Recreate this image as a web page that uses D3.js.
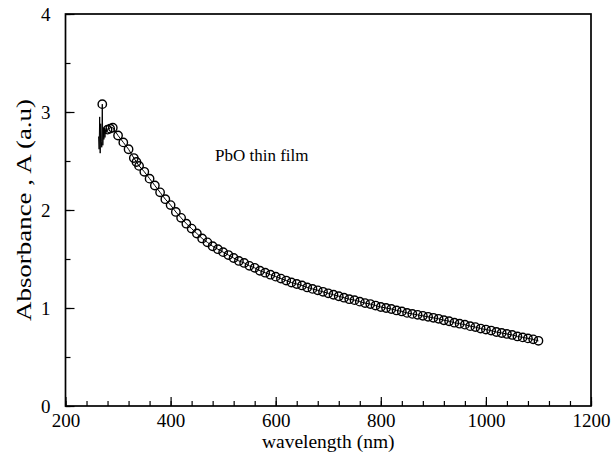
<!DOCTYPE html>
<html>
<head>
<meta charset="utf-8">
<script src="https://cdn.jsdelivr.net/npm/d3@7"></script>
<style>
  body { margin: 0; background: #fff; }
  text { font-family: "Liberation Serif", "Times New Roman", serif; fill: #000; }
</style>
</head>
<body>
<div id="chart"></div>
<script>
// circle markers (nm, a.u.)
var wavelength = [270, 280, 285, 290, 300, 310, 320, 330, 335, 340, 350, 360, 370, 380, 390,
  400, 410, 420, 430, 440, 450, 460, 470, 480, 490, 500, 510, 520, 530, 540, 550,
  560, 570, 580, 590, 600, 610, 620, 630, 640, 650, 660, 670, 680, 690, 700, 710,
  720, 730, 740, 750, 760, 770, 780, 790, 800, 810, 820, 830, 840, 850, 860, 870,
  880, 890, 900, 910, 920, 930, 940, 950, 960, 970, 980, 990, 1000, 1010, 1020,
  1030, 1040, 1050, 1060, 1070, 1080, 1090, 1100];
var absorbance = [3.08, 2.82, 2.83, 2.84, 2.76, 2.69, 2.62, 2.53, 2.49, 2.45, 2.39, 2.32, 2.25, 2.18, 2.11,
  2.05, 1.98, 1.92, 1.86, 1.81, 1.76, 1.71, 1.67, 1.63, 1.60, 1.57, 1.54, 1.51, 1.48, 1.46, 1.43,
  1.41, 1.38, 1.36, 1.34, 1.32, 1.30, 1.28, 1.26, 1.245, 1.23, 1.21, 1.195, 1.18, 1.165, 1.15, 1.135,
  1.12, 1.105, 1.09, 1.08, 1.065, 1.05, 1.04, 1.025, 1.01, 1.0, 0.99, 0.975, 0.965, 0.95, 0.94, 0.93,
  0.92, 0.91, 0.90, 0.89, 0.875, 0.865, 0.85, 0.84, 0.83, 0.815, 0.805, 0.79, 0.78, 0.77, 0.755,
  0.745, 0.735, 0.725, 0.71, 0.70, 0.69, 0.68, 0.665];

// noisy raw trace near the band edge (line only)
var rawWl  = [263, 264, 265, 266, 267, 268, 269, 270, 271, 272, 273, 274, 275, 276, 277, 278, 279, 280, 282, 284, 286, 288, 290, 295, 300];
var rawAbs = [2.75, 2.62, 2.95, 2.58, 2.88, 2.70, 2.64, 3.08, 2.66, 2.80, 2.72, 2.84, 2.74, 2.82, 2.78, 2.84, 2.80, 2.82, 2.84, 2.83, 2.85, 2.84, 2.84, 2.80, 2.76];

var xTicks = [200, 400, 600, 800, 1000, 1200];
var yTicks = [0, 1, 2, 3, 4];

var width = 612, height = 457;
var padL = 65.5, padR = 591, padT = 14, padB = 406;

var svg = d3.select('#chart').append('svg')
  .attr('width', width)
  .attr('height', height);

var x = d3.scaleLinear().domain([200, 1200]).range([padL, padR]);
var y = d3.scaleLinear().domain([0, 4]).range([padB, padT]);

// minor ticks
svg.append('g')
  .attr('transform', 'translate(0,' + padB + ')')
  .call(d3.axisBottom(x).tickValues(d3.range(200, 1201, 40)).tickSize(-5).tickFormat(''))
  .call(g => g.select('.domain').remove());
svg.append('g')
  .attr('transform', 'translate(' + padL + ',0)')
  .call(d3.axisLeft(y).tickValues(d3.range(0, 4.01, 0.5)).tickSize(-5).tickFormat(''))
  .call(g => g.select('.domain').remove());

// major ticks
var xAxis = svg.append('g')
  .attr('transform', 'translate(0,' + padB + ')')
  .call(d3.axisBottom(x).tickValues(xTicks).tickSize(-9).tickPadding(8).tickFormat(d3.format('d')));
var yAxis = svg.append('g')
  .attr('transform', 'translate(' + padL + ',0)')
  .call(d3.axisLeft(y).tickValues(yTicks).tickSize(-9).tickPadding(15).tickFormat(d3.format('d')));

[xAxis, yAxis].forEach(function (g) {
  g.select('.domain').remove();
  g.selectAll('text').style('font-size', '19px').style('font-family', '"Liberation Serif", serif');
});
svg.selectAll('.tick line').attr('stroke', '#000').attr('stroke-width', 1.2);

// frame
svg.append('rect')
  .attr('x', padL).attr('y', padT)
  .attr('width', padR - padL).attr('height', padB - padT)
  .attr('fill', 'none').attr('stroke', '#000').attr('stroke-width', 1.7);

var line = d3.line().x(d => x(d[0])).y(d => y(d[1]));

svg.append('path')
  .datum(rawWl.map((d, i) => [d, rawAbs[i]]))
  .attr('d', line)
  .attr('fill', 'none').attr('stroke', '#000').attr('stroke-width', 1);

svg.append('path')
  .datum(wavelength.slice(4).map((d, i) => [d, absorbance[i + 4]]))
  .attr('d', line)
  .attr('fill', 'none').attr('stroke', '#000').attr('stroke-width', 1);

svg.selectAll('circle.pt')
  .data(wavelength.map((d, i) => [d, absorbance[i]]))
  .enter().append('circle')
    .attr('class', 'pt')
    .attr('cx', d => x(d[0]))
    .attr('cy', d => y(d[1]))
    .attr('r', 4.2)
    .attr('fill', 'none')
    .attr('stroke', '#000')
    .attr('stroke-width', 1.4);

svg.append('text')
  .attr('x', 215).attr('y', 161)
  .style('font-size', '17px')
  .text('PbO thin film');

svg.append('text')
  .attr('x', (padL + padR) / 2).attr('y', 448)
  .attr('text-anchor', 'middle')
  .style('font-size', '19.5px')
  .text('wavelength (nm)');

svg.append('text')
  .attr('transform', 'translate(31,' + ((padT + padB) / 2) + ') rotate(-90)')
  .attr('text-anchor', 'middle')
  .attr('textLength', 222)
  .attr('lengthAdjust', 'spacingAndGlyphs')
  .style('font-size', '21px')
  .text('Absorbance , A (a.u)');
</script>
</body>
</html>
